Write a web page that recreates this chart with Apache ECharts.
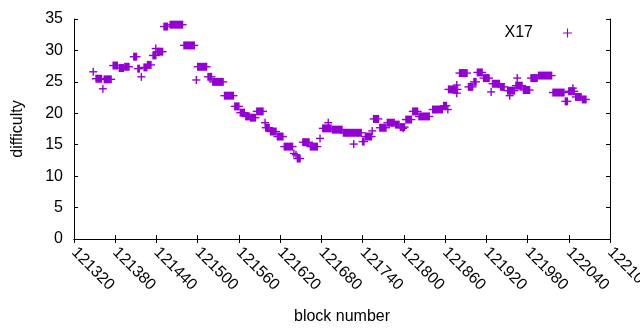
<!DOCTYPE html>
<html>
<head>
<meta charset="utf-8">
<script src="https://cdn.jsdelivr.net/npm/echarts@6/dist/echarts.min.js"></script>
<style>
  html, body { margin: 0; padding: 0; background: #fff; }
  #main { width: 640px; height: 330px; }
</style>
</head>
<body>
<div id="main"></div>
<script>
// runs of consecutive blocks with (about) the same difficulty
var runStart = [121348, 121352, 121362, 121364, 121377, 121386, 121394, 121407, 121413, 121418,
  121422, 121427, 121435, 121439, 121441, 121451, 121460, 121480, 121498, 121500,
  121515, 121522, 121539, 121554, 121562, 121570, 121577, 121586, 121598, 121599,
  121606, 121616, 121626, 121640, 121643, 121645, 121653, 121664, 121678, 121682,
  121690, 121696, 121712, 121727, 121730, 121740, 121744, 121754, 121756, 121765,
  121776, 121788, 121795, 121799, 121803, 121813, 121822, 121842, 121858, 121864,
  121865, 121877, 121877, 121881, 121894, 121902, 121907, 121916, 121927, 121929,
  121941, 121951, 121954, 121965, 121963, 121974, 121985, 121996, 122017, 122035,
  122040, 122046, 122050, 122060];
var runEnd = [121348, 121360, 121362, 121374, 121383, 121392, 121400, 121411, 121415, 121418,
  121426, 121432, 121439, 121439, 121449, 121456, 121478, 121495, 121498, 121513,
  121520, 121537, 121552, 121560, 121568, 121575, 121584, 121595, 121598, 121604,
  121614, 121624, 121638, 121640, 121643, 121649, 121662, 121674, 121678, 121694,
  121690, 121710, 121728, 121727, 121738, 121742, 121753, 121754, 121763, 121774,
  121786, 121793, 121801, 121799, 121811, 121820, 121837, 121856, 121862, 121864,
  121878, 121877, 121877, 121892, 121900, 121905, 121914, 121924, 121927, 121939,
  121946, 121961, 121954, 121965, 121972, 121983, 121994, 122015, 122033, 122038,
  122048, 122046, 122058, 122065];
var runValue = [26.6, 25.5, 23.9, 25.4, 27.6, 27.2, 27.4, 29.0, 27.1, 25.8,
  27.3, 27.7, 29.2, 30.3, 29.8, 33.8, 34.1, 30.8, 25.3, 27.4,
  25.8, 25.0, 22.8, 21.1, 20.1, 19.5, 19.3, 20.3, 18.5, 17.7,
  17.1, 16.3, 14.7, 13.6, 13.4, 12.8, 15.4, 14.7, 16.0, 17.6,
  18.5, 17.4, 16.9, 15.1, 16.9, 15.5, 16.3, 17.2, 19.1, 17.7,
  18.5, 18.2, 17.8, 17.6, 19.0, 20.3, 19.5, 20.6, 21.2, 20.6,
  23.8, 24.5, 23.2, 26.4, 24.2, 25.0, 26.5, 25.6, 23.4, 24.7,
  24.2, 23.6, 22.8, 25.6, 24.4, 23.7, 25.6, 26.0, 23.3, 21.9,
  23.5, 24.0, 22.6, 22.2];

var xMin = 121320, xMax = 122100, xStep = 60;
var yMin = 0, yMax = 35, yStep = 5;

var runs = [];
for (var i = 0; i < runStart.length; i++) {
  runs.push([runStart[i], runEnd[i], runValue[i]]);
}

var plusIcon = 'path://M0,3.5H3.5V0H4.5V3.5H8V4.5H4.5V8H3.5V4.5H0Z';
var fontFam = '"Liberation Sans", Arial, sans-serif';

var chart = echarts.init(document.getElementById('main'), null, { renderer: 'canvas' });

// gnuplot style "+": overlapping crosses of a run make a block with whiskers
function renderPlus(params, api) {
  var p0 = api.coord([api.value(0), api.value(2)]);
  var p1 = api.coord([api.value(1), api.value(2)]);
  var a = 4, lw = 1.4;
  var color = api.visual('color');
  return {
    type: 'group',
    children: [
      { type: 'rect', shape: { x: p0[0] - lw / 2, y: p0[1] - a, width: p1[0] - p0[0] + lw, height: 2 * a }, style: { fill: color } },
      { type: 'rect', shape: { x: p0[0] - a, y: p0[1] - lw / 2, width: p1[0] - p0[0] + 2 * a, height: lw }, style: { fill: color } }
    ]
  };
}

function plain(v) { return String(v); }

var option = {
  animation: false,
  color: ['#9400d3'],
  textStyle: { fontFamily: fontFam },
  grid: { left: 74, right: 30, top: 19, bottom: 91, outerBoundsMode: 'none', containLabel: false },
  legend: {
    data: [{ name: 'X17', icon: plusIcon }],
    right: 68,
    top: 25,
    padding: 0,
    align: 'right',
    itemWidth: 9,
    itemHeight: 9,
    textStyle: { fontSize: 16, color: '#000', fontFamily: fontFam, padding: [0, 25, 0, 0] }
  },
  xAxis: [{
    type: 'value',
    min: xMin, max: xMax, interval: xStep,
    name: 'block number',
    nameLocation: 'middle',
    nameGap: 70,
    nameTextStyle: { fontSize: 16, color: '#000', fontFamily: fontFam },
    axisLine: { show: true, lineStyle: { color: '#000', width: 1 } },
    axisTick: { show: true, inside: true, length: 4, lineStyle: { color: '#000' } },
    axisLabel: { rotate: -45, margin: 11, fontSize: 16, color: '#000', fontFamily: fontFam, formatter: plain, showMaxLabel: true, showMinLabel: true },
    splitLine: { show: false }
  }, {
    type: 'value', position: 'top',
    min: xMin, max: xMax, interval: xStep,
    axisLine: { show: true, lineStyle: { color: '#000', width: 1 } },
    axisTick: { show: true, inside: true, length: 4, lineStyle: { color: '#000' } },
    axisLabel: { show: false },
    splitLine: { show: false }
  }],
  yAxis: [{
    type: 'value',
    min: yMin, max: yMax, interval: yStep,
    name: 'difficulty',
    nameLocation: 'middle',
    nameGap: 48,
    nameTextStyle: { fontSize: 16, color: '#000', fontFamily: fontFam },
    axisLine: { show: true, lineStyle: { color: '#000', width: 1 } },
    axisTick: { show: true, inside: true, length: 4, lineStyle: { color: '#000' } },
    axisLabel: { margin: 11, fontSize: 16, color: '#000', fontFamily: fontFam, formatter: plain },
    splitLine: { show: false }
  }, {
    type: 'value', position: 'right',
    min: yMin, max: yMax, interval: yStep,
    axisLine: { show: true, lineStyle: { color: '#000', width: 1 } },
    axisTick: { show: true, inside: true, length: 4, lineStyle: { color: '#000' } },
    axisLabel: { show: false },
    splitLine: { show: false }
  }],
  series: [{
    name: 'X17',
    type: 'custom',
    renderItem: renderPlus,
    itemStyle: { color: '#9400d3' },
    encode: { x: [0, 1], y: 2 },
    data: runs,
    clip: false
  }]
};
chart.setOption(option);
</script>
</body>
</html>
